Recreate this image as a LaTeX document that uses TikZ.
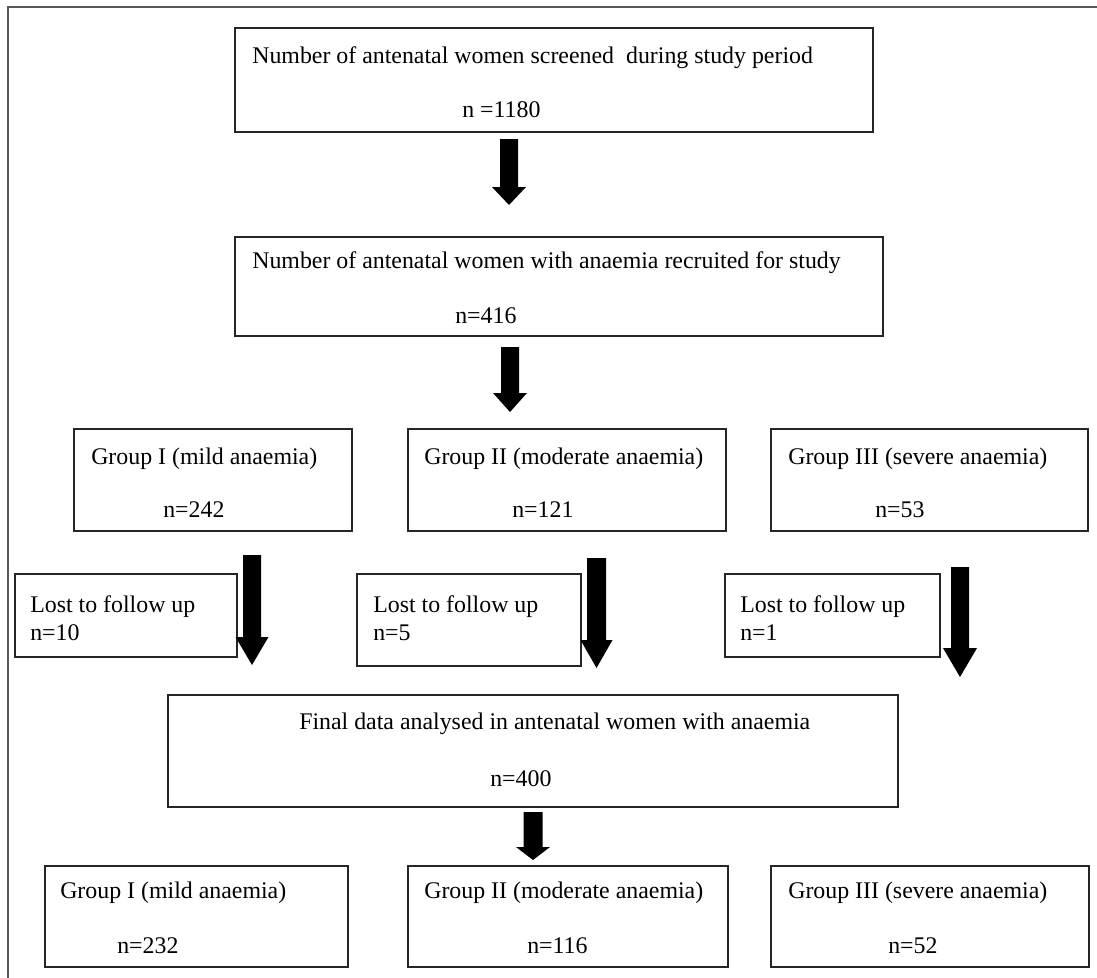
\documentclass[tikz,border=0pt]{standalone}
\usepackage{fontspec}
\setmainfont{Liberation Serif}
\usetikzlibrary{fit}
\tikzset{
  box/.style={draw=black!85, line width=1.1pt, inner sep=0pt},
  txt/.style={anchor=base west, inner sep=0pt, font=\fontsize{17.9}{21}\selectfont},
  frame/.style={draw=black!65, line width=1.5pt},
  blk/.style={fill=black},
}
\newcommand\mybox[5]{\node[box, fit={(#2,#3) (#4,#5)}] (#1) {};}
% name, cx, top, headstart, tip, halfshaft, halfhead
\newcommand\blockarr[7]{%
  \coordinate (#1) at (#2,#5);
  \fill[blk] (#2-#6,#3) -- (#2+#6,#3) -- (#2+#6,#4) -- (#2+#7,#4) -- (#1) -- (#2-#7,#4) -- (#2-#6,#4) -- cycle;}
\begin{document}
\begin{tikzpicture}[x=0.75pt,y=-0.75pt]
\useasboundingbox (0,0) rectangle (1097,978);
\draw[frame] (8,980) -- (8,7) -- (1099,7);

% boxes
\mybox{b1}{235}{28}{873}{132}
\mybox{b2}{235}{237}{883}{336}
\mybox{g1}{74}{429}{352}{531}
\mybox{g2}{408}{429}{726}{531}
\mybox{g3}{771}{429}{1088}{531}
\mybox{l1}{15}{574}{237}{657}
\mybox{l2}{357}{574}{581}{666}
\mybox{l3}{725}{574}{940}{657}
\mybox{b5}{168}{695}{898}{807}
\mybox{f1}{45}{866}{348}{967}
\mybox{f2}{408}{866}{728}{967}
\mybox{f3}{771}{866}{1089}{967}

% texts
\node[txt] (t1a) at (252,63) {Number of antenatal women screened\ \ during study period};
\node[txt] (t1b) at (462,117) {n =1180};
\node[txt] (t2a) at (252,268) {Number of antenatal women with anaemia recruited for study};
\node[txt] (t2b) at (455,323) {n=416};
\node[txt] (t3a) at (91,464) {Group I (mild anaemia)};
\node[txt] (t3an) at (163,517) {n=242};
\node[txt] (t3b) at (424,464) {Group II (moderate anaemia)};
\node[txt] (t3bn) at (512,517) {n=121};
\node[txt] (t3c) at (788,464) {Group III (severe anaemia)};
\node[txt] (t3cn) at (875,517) {n=53};
\node[txt] (t4a) at (30,612) {Lost to follow up};
\node[txt] (t4an) at (30,640) {n=10};
\node[txt] (t4b) at (373,612) {Lost to follow up};
\node[txt] (t4bn) at (373,640) {n=5};
\node[txt] (t4c) at (740,612) {Lost to follow up};
\node[txt] (t4cn) at (740,640) {n=1};
\node[txt] (t5a) at (299,729) {Final data analysed in antenatal women with anaemia};
\node[txt] (t5b) at (490,786) {n=400};
\node[txt] (t6a) at (60,898) {Group I (mild anaemia)};
\node[txt] (t6an) at (117,953) {n=232};
\node[txt] (t6b) at (424,898) {Group II (moderate anaemia)};
\node[txt] (t6bn) at (527,953) {n=116};
\node[txt] (t6c) at (788,898) {Group III (severe anaemia)};
\node[txt] (t6cn) at (888,953) {n=52};

% block arrows
\blockarr{a1}{509}{139}{187}{205}{9}{17}
\blockarr{a2}{510}{347}{393}{412}{9}{17}
\blockarr{a3}{252}{555}{637}{665}{9}{16.5}
\blockarr{a4}{596.5}{558}{640}{668}{9.5}{16}
\blockarr{a5}{960}{567}{648}{677}{9}{17}
\blockarr{a6}{533}{812}{847}{860}{9.5}{17}
\end{tikzpicture}
\end{document}
